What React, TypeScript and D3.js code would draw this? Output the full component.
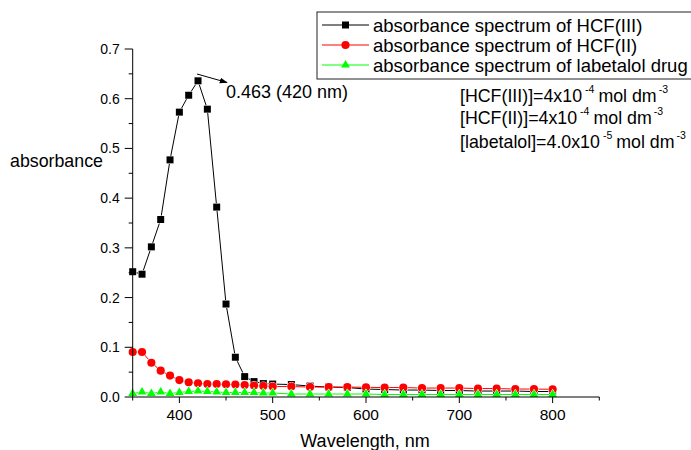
import * as d3 from 'd3';

// wavelength grid (nm)
const wavelengths = [350, 360, 370, 380, 390, 400, 410, 420, 430, 440, 450, 460, 470, 480, 490, 500,
  520, 540, 560, 580, 600, 620, 640, 660, 680, 700, 720, 740, 760, 780, 800];

const hcf3 = [0.252, 0.247, 0.302, 0.357, 0.477, 0.573, 0.607, 0.636, 0.579, 0.382, 0.187, 0.080, 0.041, 0.031, 0.027, 0.026,
  0.025, 0.022, 0.020, 0.019, 0.016, 0.015, 0.014, 0.014, 0.013, 0.013, 0.012, 0.012, 0.012, 0.011, 0.011];

const hcf2 = [0.0905, 0.0905, 0.069, 0.053, 0.043, 0.034, 0.0295, 0.0275, 0.026, 0.026, 0.0255, 0.025, 0.024, 0.023, 0.022, 0.021,
  0.021, 0.020, 0.020, 0.020, 0.0195, 0.019, 0.019, 0.018, 0.018, 0.018, 0.017, 0.017, 0.016, 0.016, 0.0155];

const labetalol = [0.007, 0.010, 0.007, 0.010, 0.007, 0.009, 0.011, 0.012, 0.011, 0.010, 0.009, 0.009, 0.009, 0.009, 0.008, 0.008,
  0.006, 0.006, 0.006, 0.006, 0.006, 0.005, 0.005, 0.005, 0.005, 0.005, 0.005, 0.005, 0.005, 0.005, 0.005];

const seriesNames = [
  'absorbance spectrum of HCF(III)',
  'absorbance spectrum of HCF(II)',
  'absorbance spectrum of labetalol drug',
];
const seriesColors = ['#000000', '#ff0000', '#00ff00'];

// concentration notes: [main, exponent]
const concLines = [
  ['[HCF(III)]=4x10', '-4'],
  ['[HCF(II)]=4x10', '-4'],
  ['[labetalol]=4.0x10', '-5'],
];

const xMajor = [400, 500, 600, 700, 800];
const xMinor = [350, 450, 550, 650, 750, 850];
const yMajor = [0, 0.1, 0.2, 0.3, 0.4, 0.5, 0.6, 0.7];
const yMinor = [0.05, 0.15, 0.25, 0.35, 0.45, 0.55, 0.65];

const W = 691;
const H = 450;
const FONT = 'Arial, "Liberation Sans", sans-serif';

export default function App() {
  const x = d3.scaleLinear().domain([350, 850]).range([132.7, 599.3]);
  const y = d3.scaleLinear().domain([0, 0.7]).range([397, 49]);

  const symbols = [
    d3.symbol().type(d3.symbolSquare).size(49)(),
    d3.symbol().type(d3.symbolCircle).size(52)(),
    d3.symbol().type(d3.symbolTriangle).size(34)(),
  ];

  const line = d3.line<number>()
    .x((_, i) => x(wavelengths[i]))
    .y((v) => y(v));

  const data = [hcf3, hcf2, labetalol];

  return (
    <svg width={W} height={H} style={{ position: 'absolute', left: 0, top: 0, background: '#fff' }} fontFamily={FONT}>
      <defs>
        <marker id="arr" viewBox="0 0 10 10" refX="9" refY="5" markerWidth="8" markerHeight="8" orient="auto">
          <path d="M0,1.5 L10,5 L0,8.5 Z" fill="#000" />
        </marker>
      </defs>

      {/* series */}
      {data.map((vals, s) => (
        <g key={s}>
          <path d={line(vals) ?? ''} fill="none" stroke={seriesColors[s]} strokeWidth={1} />
          {vals.map((v, i) => (
            <path key={i} d={symbols[s]} transform={`translate(${x(wavelengths[i])},${y(v)})`}
              fill={seriesColors[s]} stroke="#fff" strokeWidth={1} style={{ paintOrder: 'stroke' }} />
          ))}
        </g>
      ))}

      {/* x axis */}
      <g>
        <line x1={x(350)} x2={x(850)} y1={y(0)} y2={y(0)} stroke="#000" strokeWidth={1} />
        {xMajor.map((t) => (
          <g key={t}>
            <line x1={x(t)} x2={x(t)} y1={y(0)} y2={y(0) + 6} stroke="#000" />
            <text x={x(t)} y={420} textAnchor="middle" fontSize={15.5}>{t}</text>
          </g>
        ))}
        {xMinor.map((t) => (
          <line key={t} x1={x(t)} x2={x(t)} y1={y(0)} y2={y(0) + 3.5} stroke="#000" />
        ))}
        <text x={365} y={447} textAnchor="middle" fontSize={18}>Wavelength, nm</text>
      </g>

      {/* y axis */}
      <g>
        <line x1={x(350)} x2={x(350)} y1={y(0)} y2={y(0.7)} stroke="#000" strokeWidth={1} />
        {yMajor.map((t) => (
          <g key={t}>
            <line x1={x(350) - 8} x2={x(350)} y1={y(t)} y2={y(t)} stroke="#000" />
            <text x={x(350) - 13} y={y(t) + 5} textAnchor="end" fontSize={14}>{t.toFixed(1)}</text>
          </g>
        ))}
        {yMinor.map((t) => (
          <line key={t} x1={x(350) - 4} x2={x(350)} y1={y(t)} y2={y(t)} stroke="#000" />
        ))}
        <text x={10} y={167} fontSize={17.8}>absorbance</text>
      </g>

      {/* legend */}
      <g>
        <rect x={317} y={12} width={400} height={67} fill="#fff" stroke="#222" strokeWidth={1} />
        {seriesNames.map((name, i) => (
          <g key={name} transform={`translate(0,${25 + i * 20})`}>
            <line x1={322} x2={369} y1={0} y2={0} stroke={seriesColors[i]} />
            <path d={symbols[i]} transform="translate(345.5,0)" fill={seriesColors[i]} />
            <text x={373} y={7} fontSize={18.5}>{name}</text>
          </g>
        ))}
      </g>

      {/* peak annotation */}
      <line x1={197} y1={74} x2={227} y2={82.5} stroke="#000" strokeWidth={1} markerEnd="url(#arr)" />
      <text x={226} y={98} fontSize={18}>0.463 (420 nm)</text>

      {/* concentrations */}
      <g fontSize={17.8}>
        {concLines.map(([main, exp], i) => (
          <text key={main} x={460} y={[102, 124, 148][i]}>
            {main}
            <tspan dx={3} dy={-9} fontSize={10.5}>{exp}</tspan>
            <tspan dx={4} dy={9}>mol dm</tspan>
            <tspan dx={2} dy={-9} fontSize={10.5}>-3</tspan>
          </text>
        ))}
      </g>
    </svg>
  );
}
